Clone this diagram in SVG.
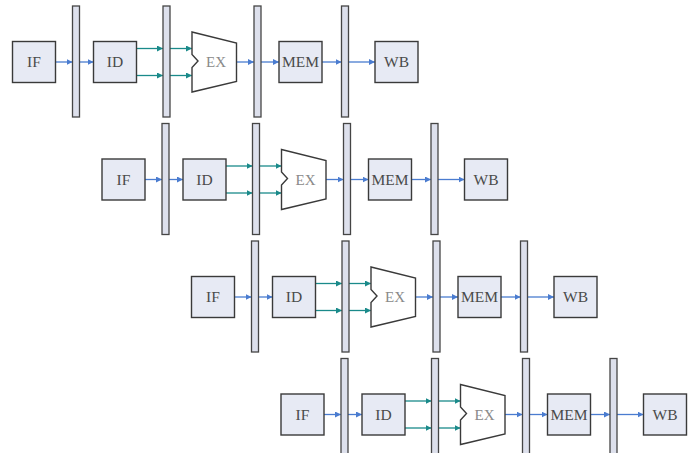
<svg xmlns="http://www.w3.org/2000/svg" width="700" height="453" viewBox="0 0 700 453">
<style>
.box{fill:#e7eaf4;stroke:#3a3a3a;stroke-width:1.4}
.reg{fill:#dde0ec;stroke:#454545;stroke-width:1.3}
.alu{fill:#ffffff;stroke:#3a3a3a;stroke-width:1.4}
.lbl{font-family:"Liberation Serif","Times New Roman",serif;font-size:15.5px;fill:#4a4a4a;text-anchor:middle}
.lblx{font-family:"Liberation Serif","Times New Roman",serif;font-size:15px;fill:#8a8a8a;text-anchor:middle}
.b{stroke:#4a7cd0;stroke-width:1.3;fill:none;marker-end:url(#ab)}
.t{stroke:#1a8a8a;stroke-width:1.3;fill:none;marker-end:url(#at)}
</style>
<defs>
<marker id="ab" markerUnits="userSpaceOnUse" markerWidth="7" markerHeight="6" refX="6" refY="3" orient="auto"><path d="M0,0 L6,3 L0,6 Z" fill="#4a7cd0"/></marker>
<marker id="at" markerUnits="userSpaceOnUse" markerWidth="7" markerHeight="6" refX="6" refY="3" orient="auto"><path d="M0,0 L6,3 L0,6 Z" fill="#1a8a8a"/></marker>
</defs>
<rect width="700" height="453" fill="#ffffff"/>

<!-- Connectors -->
<g id="connectors">
<g id="conn-row1">
<line class="b" x1="55.5" y1="62" x2="72.5" y2="62"/><line class="b" x1="79.5" y1="62" x2="93.5" y2="62"/>
<line class="t" x1="136.5" y1="48.5" x2="163" y2="48.5"/><line class="t" x1="136.5" y1="75.5" x2="163" y2="75.5"/>
<line class="t" x1="170" y1="48.5" x2="192" y2="48.5"/><line class="t" x1="170" y1="75.5" x2="192" y2="75.5"/>
<line class="b" x1="236.5" y1="62" x2="254" y2="62"/><line class="b" x1="261" y1="62" x2="279" y2="62"/>
<line class="b" x1="322" y1="62" x2="341.5" y2="62"/><line class="b" x1="348.5" y1="62" x2="375" y2="62"/>
</g>
<g id="conn-row2" transform="translate(89.5,117.5)">
<line class="b" x1="55.5" y1="62" x2="72.5" y2="62"/><line class="b" x1="79.5" y1="62" x2="93.5" y2="62"/>
<line class="t" x1="136.5" y1="48.5" x2="163" y2="48.5"/><line class="t" x1="136.5" y1="75.5" x2="163" y2="75.5"/>
<line class="t" x1="170" y1="48.5" x2="192" y2="48.5"/><line class="t" x1="170" y1="75.5" x2="192" y2="75.5"/>
<line class="b" x1="236.5" y1="62" x2="254" y2="62"/><line class="b" x1="261" y1="62" x2="279" y2="62"/>
<line class="b" x1="322" y1="62" x2="341.5" y2="62"/><line class="b" x1="348.5" y1="62" x2="375" y2="62"/>
</g>
<g id="conn-row3" transform="translate(179,235)">
<line class="b" x1="55.5" y1="62" x2="72.5" y2="62"/><line class="b" x1="79.5" y1="62" x2="93.5" y2="62"/>
<line class="t" x1="136.5" y1="48.5" x2="163" y2="48.5"/><line class="t" x1="136.5" y1="75.5" x2="163" y2="75.5"/>
<line class="t" x1="170" y1="48.5" x2="192" y2="48.5"/><line class="t" x1="170" y1="75.5" x2="192" y2="75.5"/>
<line class="b" x1="236.5" y1="62" x2="254" y2="62"/><line class="b" x1="261" y1="62" x2="279" y2="62"/>
<line class="b" x1="322" y1="62" x2="341.5" y2="62"/><line class="b" x1="348.5" y1="62" x2="375" y2="62"/>
</g>
<g id="conn-row4" transform="translate(268.5,352.5)">
<line class="b" x1="55.5" y1="62" x2="72.5" y2="62"/><line class="b" x1="79.5" y1="62" x2="93.5" y2="62"/>
<line class="t" x1="136.5" y1="48.5" x2="163" y2="48.5"/><line class="t" x1="136.5" y1="75.5" x2="163" y2="75.5"/>
<line class="t" x1="170" y1="48.5" x2="192" y2="48.5"/><line class="t" x1="170" y1="75.5" x2="192" y2="75.5"/>
<line class="b" x1="236.5" y1="62" x2="254" y2="62"/><line class="b" x1="261" y1="62" x2="279" y2="62"/>
<line class="b" x1="322" y1="62" x2="341.5" y2="62"/><line class="b" x1="348.5" y1="62" x2="375" y2="62"/>
</g>
</g>

<!-- Row 1 -->
<g id="row1-IF"><rect class="box" x="12.5" y="41.5" width="43" height="41"/><text class="lbl" x="34" y="67">IF</text></g>
<g id="row1-R1"><rect class="reg" x="72.5" y="6" width="7" height="111"/></g>
<g id="row1-ID"><rect class="box" x="93.5" y="41.5" width="43" height="41"/><text class="lbl" x="115" y="67">ID</text></g>
<g id="row1-R2"><rect class="reg" x="163" y="6" width="7" height="111"/></g>
<g id="row1-EX"><path class="alu" d="M192,32 L236.5,43 L236.5,81.5 L192,92 L192,67.5 L198,61 L192,54.5 Z"/><text class="lblx" x="216" y="67">EX</text></g>
<g id="row1-R3"><rect class="reg" x="254" y="6" width="7" height="111"/></g>
<g id="row1-MEM"><rect class="box" x="279" y="41.5" width="43" height="41"/><text class="lbl" x="300.5" y="67">MEM</text></g>
<g id="row1-R4"><rect class="reg" x="341.5" y="6" width="7" height="111"/></g>
<g id="row1-WB"><rect class="box" x="375" y="41.5" width="43" height="41"/><text class="lbl" x="396.5" y="67">WB</text></g>

<!-- Row 2 -->
<g id="row2-IF" transform="translate(89.5,117.5)"><rect class="box" x="12.5" y="41.5" width="43" height="41"/><text class="lbl" x="34" y="67">IF</text></g>
<g id="row2-R1" transform="translate(89.5,117.5)"><rect class="reg" x="72.5" y="6" width="7" height="111"/></g>
<g id="row2-ID" transform="translate(89.5,117.5)"><rect class="box" x="93.5" y="41.5" width="43" height="41"/><text class="lbl" x="115" y="67">ID</text></g>
<g id="row2-R2" transform="translate(89.5,117.5)"><rect class="reg" x="163" y="6" width="7" height="111"/></g>
<g id="row2-EX" transform="translate(89.5,117.5)"><path class="alu" d="M192,32 L236.5,43 L236.5,81.5 L192,92 L192,67.5 L198,61 L192,54.5 Z"/><text class="lblx" x="216" y="67">EX</text></g>
<g id="row2-R3" transform="translate(89.5,117.5)"><rect class="reg" x="254" y="6" width="7" height="111"/></g>
<g id="row2-MEM" transform="translate(89.5,117.5)"><rect class="box" x="279" y="41.5" width="43" height="41"/><text class="lbl" x="300.5" y="67">MEM</text></g>
<g id="row2-R4" transform="translate(89.5,117.5)"><rect class="reg" x="341.5" y="6" width="7" height="111"/></g>
<g id="row2-WB" transform="translate(89.5,117.5)"><rect class="box" x="375" y="41.5" width="43" height="41"/><text class="lbl" x="396.5" y="67">WB</text></g>

<!-- Row 3 -->
<g id="row3-IF" transform="translate(179,235)"><rect class="box" x="12.5" y="41.5" width="43" height="41"/><text class="lbl" x="34" y="67">IF</text></g>
<g id="row3-R1" transform="translate(179,235)"><rect class="reg" x="72.5" y="6" width="7" height="111"/></g>
<g id="row3-ID" transform="translate(179,235)"><rect class="box" x="93.5" y="41.5" width="43" height="41"/><text class="lbl" x="115" y="67">ID</text></g>
<g id="row3-R2" transform="translate(179,235)"><rect class="reg" x="163" y="6" width="7" height="111"/></g>
<g id="row3-EX" transform="translate(179,235)"><path class="alu" d="M192,32 L236.5,43 L236.5,81.5 L192,92 L192,67.5 L198,61 L192,54.5 Z"/><text class="lblx" x="216" y="67">EX</text></g>
<g id="row3-R3" transform="translate(179,235)"><rect class="reg" x="254" y="6" width="7" height="111"/></g>
<g id="row3-MEM" transform="translate(179,235)"><rect class="box" x="279" y="41.5" width="43" height="41"/><text class="lbl" x="300.5" y="67">MEM</text></g>
<g id="row3-R4" transform="translate(179,235)"><rect class="reg" x="341.5" y="6" width="7" height="111"/></g>
<g id="row3-WB" transform="translate(179,235)"><rect class="box" x="375" y="41.5" width="43" height="41"/><text class="lbl" x="396.5" y="67">WB</text></g>

<!-- Row 4 -->
<g id="row4-IF" transform="translate(268.5,352.5)"><rect class="box" x="12.5" y="41.5" width="43" height="41"/><text class="lbl" x="34" y="67">IF</text></g>
<g id="row4-R1" transform="translate(268.5,352.5)"><rect class="reg" x="72.5" y="6" width="7" height="111"/></g>
<g id="row4-ID" transform="translate(268.5,352.5)"><rect class="box" x="93.5" y="41.5" width="43" height="41"/><text class="lbl" x="115" y="67">ID</text></g>
<g id="row4-R2" transform="translate(268.5,352.5)"><rect class="reg" x="163" y="6" width="7" height="111"/></g>
<g id="row4-EX" transform="translate(268.5,352.5)"><path class="alu" d="M192,32 L236.5,43 L236.5,81.5 L192,92 L192,67.5 L198,61 L192,54.5 Z"/><text class="lblx" x="216" y="67">EX</text></g>
<g id="row4-R3" transform="translate(268.5,352.5)"><rect class="reg" x="254" y="6" width="7" height="111"/></g>
<g id="row4-MEM" transform="translate(268.5,352.5)"><rect class="box" x="279" y="41.5" width="43" height="41"/><text class="lbl" x="300.5" y="67">MEM</text></g>
<g id="row4-R4" transform="translate(268.5,352.5)"><rect class="reg" x="341.5" y="6" width="7" height="111"/></g>
<g id="row4-WB" transform="translate(268.5,352.5)"><rect class="box" x="375" y="41.5" width="43" height="41"/><text class="lbl" x="396.5" y="67">WB</text></g>
</svg>
